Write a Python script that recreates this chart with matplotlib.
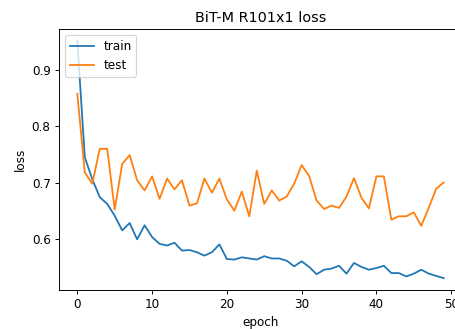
import matplotlib
matplotlib.use("Agg")
import matplotlib.pyplot as plt
import numpy as np

epochs = np.arange(50)

train_loss = [0.952, 0.745, 0.706, 0.674, 0.662, 0.641, 0.615, 0.628, 0.599, 0.624,
              0.603, 0.591, 0.588, 0.593, 0.579, 0.580, 0.576, 0.570, 0.576, 0.590,
              0.564, 0.563, 0.567, 0.565, 0.563, 0.569, 0.565, 0.565, 0.561, 0.551,
              0.560, 0.550, 0.537, 0.545, 0.547, 0.552, 0.538, 0.557, 0.550, 0.545,
              0.548, 0.552, 0.539, 0.539, 0.533, 0.538, 0.545, 0.538, 0.534, 0.530]

test_loss = [0.858, 0.718, 0.698, 0.760, 0.760, 0.652, 0.733, 0.749, 0.704, 0.686,
             0.711, 0.671, 0.707, 0.688, 0.704, 0.659, 0.663, 0.707, 0.682, 0.707,
             0.670, 0.650, 0.684, 0.640, 0.721, 0.662, 0.686, 0.668, 0.675, 0.698,
             0.731, 0.712, 0.668, 0.653, 0.659, 0.655, 0.675, 0.708, 0.673, 0.654,
             0.711, 0.711, 0.634, 0.640, 0.640, 0.647, 0.623, 0.655, 0.689, 0.700]

DPI = 86
fig = plt.figure(figsize=(456 / DPI, 329 / DPI), dpi=DPI)
# axes runs past the right edge, as in the cropped reference
ax = fig.add_axes([59 / 456, 39 / 329, 403 / 456, 261 / 329])

ax.plot(epochs, train_loss, label="train")
ax.plot(epochs, test_loss, label="test")

ax.set_title("BiT-M R101x1 loss")
ax.set_xlabel("epoch")
ax.set_ylabel("loss")
ax.legend(loc="upper left")

fig.savefig("out.png", dpi=DPI)
